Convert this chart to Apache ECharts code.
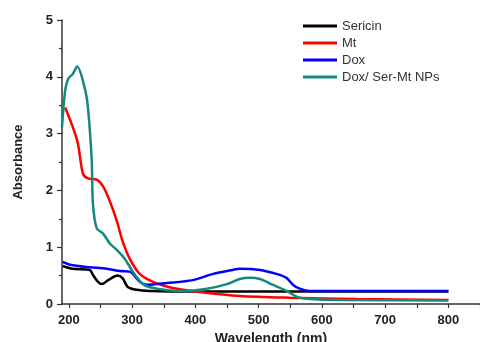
<!DOCTYPE html>
<html>
<head>
<meta charset="utf-8">
<script src="https://cdn.jsdelivr.net/npm/echarts@6/dist/echarts.min.js"></script>
<style>
  html, body { margin: 0; padding: 0; background: #fff; }
  #chart { width: 480px; height: 342px; }
</style>
</head>
<body>
<div id="chart"></div>
<script>
// values (wavelength nm / absorbance)
const sericinWl = [190, 206, 233, 238, 246, 252, 262, 277, 285, 293, 307, 328, 400, 500, 600, 700, 800];
const sericinAbs = [0.67, 0.62, 0.60, 0.51, 0.39, 0.35, 0.42, 0.50, 0.45, 0.30, 0.25, 0.23, 0.22, 0.22, 0.22, 0.22, 0.22];

const mtWl = [194, 213, 222, 230, 244, 254, 265, 276, 285, 296, 312, 333, 364, 407, 470, 549, 655, 800];
const mtAbs = [3.46, 2.88, 2.30, 2.21, 2.19, 2.07, 1.80, 1.45, 1.10, 0.80, 0.53, 0.39, 0.28, 0.21, 0.14, 0.11, 0.09, 0.07];

const doxWl = [190, 202, 228, 260, 281, 296, 312, 323, 355, 396, 428, 459, 470, 502, 528, 544, 554, 565, 581, 700, 800];
const doxAbs = [0.74, 0.69, 0.65, 0.62, 0.58, 0.57, 0.39, 0.34, 0.37, 0.42, 0.53, 0.60, 0.62, 0.60, 0.53, 0.46, 0.34, 0.27, 0.23, 0.23, 0.23];

const npWl = [189, 194, 199, 206, 213, 225, 230, 236, 238, 244, 254, 265, 276, 288, 301, 317, 339, 380, 418, 450, 470, 486, 502, 522, 544, 562, 580, 628, 800];
const npAbs = [3.11, 3.76, 3.97, 4.05, 4.18, 3.80, 3.46, 2.53, 1.75, 1.33, 1.24, 1.06, 0.95, 0.80, 0.57, 0.35, 0.27, 0.23, 0.27, 0.35, 0.44, 0.46, 0.44, 0.34, 0.23, 0.12, 0.09, 0.07, 0.06];

const xLabels = [200, 300, 400, 500, 600, 700, 800];
const xTicks = [200, 250, 300, 350, 400, 450, 500, 550, 600, 650, 700, 750, 800, 850];

const names = ['Sericin', 'Mt', 'Dox', 'Dox/ Ser-Mt NPs'];
const colors = ['#000000', '#ff0000', '#0000ff', '#138a80'];

const pairs = (xs, ys) => xs.map((x, i) => [x, ys[i]]);
const seriesData = [
    pairs(sericinWl, sericinAbs),
    pairs(mtWl, mtAbs),
    pairs(doxWl, doxAbs),
    pairs(npWl, npAbs)
];

const chart = echarts.init(document.getElementById('chart'));
const font = 'Liberation Sans, Arial, sans-serif';

chart.setOption({
    animation: false,
    color: colors,
    grid: { left: 62, top: 20, right: 0, bottom: 38, outerBoundsMode: 'none' },
    legend: {
        orient: 'vertical',
        left: 303,
        top: 19,
        padding: 0,
        icon: 'rect',
        itemWidth: 34,
        itemHeight: 3,
        itemGap: 3,
        textStyle: { fontFamily: font, fontSize: 13, color: '#333', lineHeight: 14 },
        data: names
    },
    xAxis: {
        type: 'value',
        min: 189,
        max: 850,
        name: 'Wavelength (nm)',
        nameLocation: 'middle',
        nameGap: 24,
        nameTextStyle: { fontFamily: font, fontSize: 14, fontWeight: 'bold', color: '#222' },
        axisLine: { show: true, lineStyle: { color: '#333', width: 1.5 } },
        axisTick: { show: true, length: 4, customValues: xTicks, lineStyle: { color: '#333', width: 1.2 } },
        axisLabel: { customValues: xLabels, fontFamily: font, fontSize: 13, fontWeight: 'bold', color: '#222', margin: 10 },
        splitLine: { show: false }
    },
    yAxis: {
        type: 'value',
        min: 0,
        max: 5,
        interval: 1,
        name: 'Absorbance',
        nameLocation: 'middle',
        nameGap: 37,
        nameTextStyle: { fontFamily: font, fontSize: 13, fontWeight: 'bold', color: '#222' },
        axisLine: { show: true, lineStyle: { color: '#333', width: 1.5 } },
        axisTick: { show: true, length: 5, lineStyle: { color: '#333', width: 1.2 } },
        minorTick: { show: true, splitNumber: 2, length: 3, lineStyle: { color: '#333', width: 1.2 } },
        axisLabel: { fontFamily: font, fontSize: 13, fontWeight: 'bold', color: '#222', margin: 9 },
        splitLine: { show: false }
    },
    series: names.map((n, i) => ({
        type: 'line',
        name: n,
        data: seriesData[i],
        showSymbol: false,
        symbol: 'none',
        smooth: 0.3,
        lineStyle: { width: 2.5, color: colors[i] }
    }))
});
</script>
</body>
</html>
